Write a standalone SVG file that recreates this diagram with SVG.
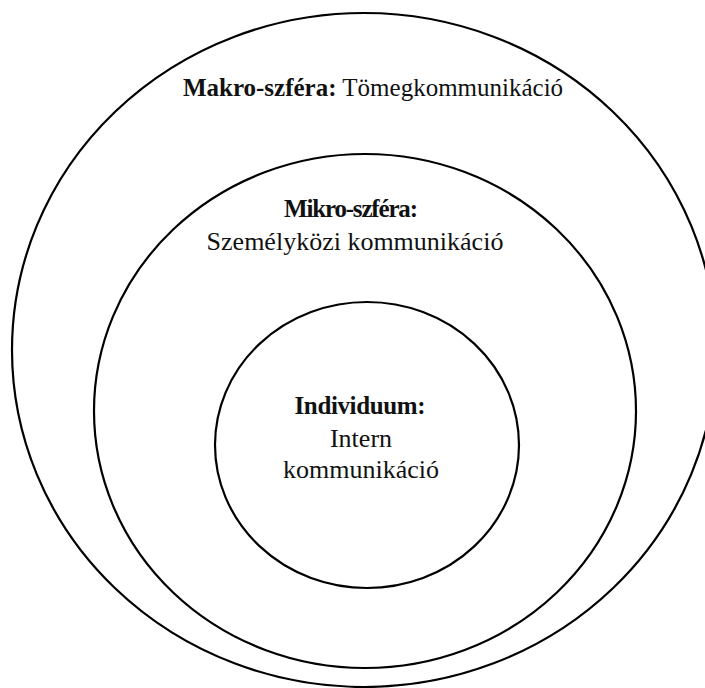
<svg xmlns="http://www.w3.org/2000/svg" width="705" height="688" viewBox="0 0 705 688">
<style>
.ring{fill:none;stroke:#000;stroke-width:2.2}
.t{font-family:"Liberation Serif","Times New Roman",serif;font-size:26px;fill:#111;text-anchor:middle}
.b{font-weight:bold;font-size:25px}
</style>
<rect width="705" height="688" fill="#fff"/>
<g id="makro">
<ellipse class="ring" cx="364" cy="350" rx="352" ry="337"/>
<text class="t" x="373" y="96" style="font-size:25px"><tspan font-weight="bold">Makro-szféra:</tspan> Tömegkommunikáció</text>
</g>
<g id="mikro">
<ellipse class="ring" cx="365" cy="411" rx="271" ry="257"/>
<text class="t b" x="351" y="217" textLength="134">Mikro-szféra:</text>
<text class="t" x="355" y="250">Személyközi kommunikáció</text>
</g>
<g id="individuum">
<ellipse class="ring" cx="367" cy="445" rx="152" ry="143"/>
<text class="t b" x="360" y="414" textLength="131">Individuum:</text>
<text class="t" x="361" y="447">Intern</text>
<text class="t" x="361" y="478">kommunikáció</text>
</g>
<g id="connectors"/>
</svg>
